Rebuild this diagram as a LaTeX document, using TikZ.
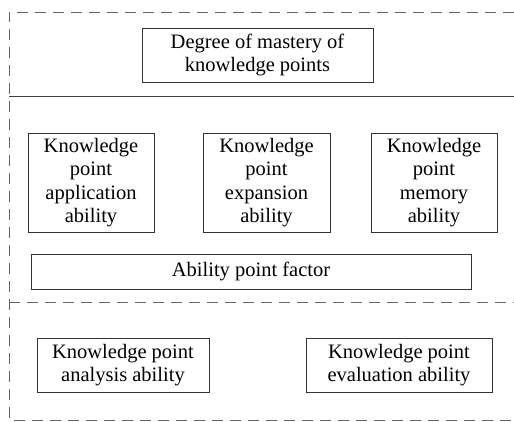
\documentclass[tikz,border=0pt]{standalone}
\usepackage{fontspec}
\setmainfont{Liberation Serif}

\begin{document}
\begin{tikzpicture}[x=1pt, y=-1pt,
                    box/.style={draw=black!80, rectangle, align=center, inner sep=0pt,
                                font=\fontsize{20.5}{23.5}\selectfont},
                    frame/.style={draw=black!60, dash pattern=on 11pt off 7pt},
                    sep/.style={draw=black!75}]
\useasboundingbox (0,0) rectangle (514,422);

% outer frame
\coordinate (tl) at (9,12);
\coordinate (tr) at (514,12);
\coordinate (bl) at (9,420);
\coordinate (br) at (514,420);
\draw [frame] (tr) -- (tl) -- (bl) -- (br);
\draw [sep] (9,96) -- (514,96);
\draw [frame] (9,302) -- (514,302);

% top layer
\node [box, minimum width=231pt, minimum height=54pt] (mastery) at (257.5,55)
      {Degree of mastery of\\knowledge points};

% middle layer
\node [box, minimum width=126pt, minimum height=99pt] (app) at (91,182.5)
      {Knowledge\\point\\application\\ability};
\node [box, minimum width=127pt, minimum height=99pt] (exp) at (266.5,182.5)
      {Knowledge\\point\\expansion\\ability};
\node [box, minimum width=126pt, minimum height=99pt] (mem) at (434,182.5)
      {Knowledge\\point\\memory\\ability};
\node [box, minimum width=440pt, minimum height=35pt] (factor) at (251,271.5)
      {Ability point factor};

% bottom layer
\node [box, minimum width=172pt, minimum height=54pt] (analysis) at (123,365)
      {Knowledge point\\analysis ability};
\node [box, minimum width=186pt, minimum height=54pt] (eval) at (399,365)
      {Knowledge point\\evaluation ability};
\end{tikzpicture}
\end{document}
